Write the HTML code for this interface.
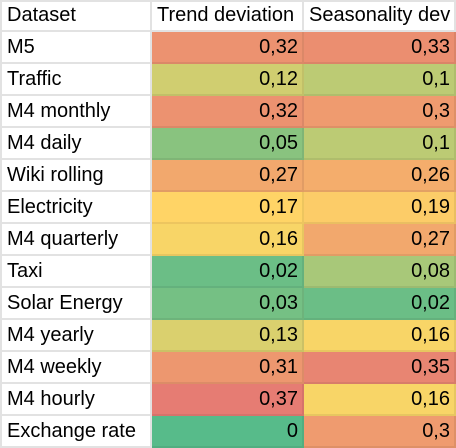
<!DOCTYPE html>
<html><head><meta charset="utf-8"><style>
body{margin:0;width:456px;height:448px;overflow:hidden;background:#fff;font-family:"Liberation Sans",sans-serif;position:relative;}
.cell{position:absolute;box-sizing:border-box;height:32px;line-height:30px;font-size:20px;color:#000;white-space:nowrap;overflow:hidden;padding:0 5px;border-right:2px solid #e2e2e2;border-bottom:2px solid #e2e2e2;}
.num{text-align:right;padding-right:4px;}
</style></head><body>
<div id="tbl"></div>
<script>
const datasets=["M5","Traffic","M4 monthly","M4 daily","Wiki rolling","Electricity","M4 quarterly","Taxi","Solar Energy","M4 yearly","M4 weekly","M4 hourly","Exchange rate"];
const trendDev=[0.32,0.12,0.32,0.05,0.27,0.17,0.16,0.02,0.03,0.13,0.31,0.37,0];
const seasonDev=[0.33,0.1,0.3,0.1,0.26,0.19,0.27,0.08,0.02,0.16,0.35,0.16,0.3];
const headers=["Dataset","Trend deviation","Seasonality dev"];
const LO=[87,187,138],MID=[255,214,102],HI=[230,124,115];
const all=trendDev.concat(seasonDev);
const MN=Math.min(...all),MX=Math.max(...all),MD=MN+(MX-MN)*0.45;
function mix(a,b,t){t=Math.max(0,Math.min(1,t));return a.map((v,i)=>Math.round(v+(b[i]-v)*t));}
function colorFor(v){
 return v<=MD?mix(LO,MID,(v-MN)/(MD-MN)):mix(MID,HI,(v-MD)/(MX-MD));}
const tbl=document.getElementById('tbl');
const colX=[0,152,304],colW=[152,152,152],rowH=32;
function fmt(v){return String(v).replace('.',',');}
function cell(r,c,text,name,bg,num){
 const d=document.createElement('div');
 d.className='cell'+(num?' num':'');
 d.style.left=colX[c]+'px';d.style.top=(r*rowH)+'px';d.style.width=colW[c]+'px';
 if(r===0)d.style.borderTop='2px solid #e2e2e2',d.style.lineHeight='26px';
 if(c===0)d.style.borderLeft='2px solid #e2e2e2';
 if(bg){d.style.background='rgb('+bg.join(',')+')';d.style.borderColor='rgb('+bg.map(x=>Math.round(x*0.93)).join(',')+')';}
 d.textContent=text;
 
 
 tbl.appendChild(d);
}
headers.forEach((h,c)=>cell(0,c,h,'header-'+h.toLowerCase().replace(/ /g,'-'),null,false));
datasets.forEach((d,i)=>{
 cell(i+1,0,d,'dataset-label',null,false);
 cell(i+1,1,fmt(trendDev[i]),'trend-cell',colorFor(trendDev[i]),true);
 cell(i+1,2,fmt(seasonDev[i]),'seasonality-cell',colorFor(seasonDev[i]),true);
});
</script>
</body></html>
